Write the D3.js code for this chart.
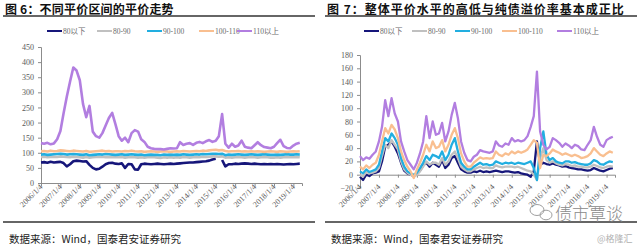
<!DOCTYPE html>
<html>
<head>
<meta charset="utf-8">
<script src="https://cdn.jsdelivr.net/npm/d3@7"></script>
<style>
  body { margin: 0; background: #fff; }
  svg { display: block; }
  .tick text { font-family: 'Liberation Serif', serif; font-size: 8px; fill: #595959; }
  .tick line, .domain { stroke: #8c8c8c; }
  .title { font-family: 'Noto Sans CJK SC', sans-serif; font-weight: 700; font-size: 12px; fill: #111; }
  .legend-text { font-family: 'Liberation Serif', 'Noto Sans CJK SC', serif; font-size: 7.5px; fill: #6a6a6a; }
  .source { font-family: 'Noto Sans CJK SC', sans-serif; font-size: 10.5px; fill: #222; }
</style>
</head>
<body>
<svg width="640" height="246"></svg>
<script>
const svg = d3.select('svg');

const seriesNames = ['80以下', '80-90', '90-100', '100-110', '110以上'];
const seriesColors = ['#16167a', '#c0c0c0', '#22aee0', '#f9bf90', '#b27ee0'];
const yearTicks = d3.range(2006, 2020);
// one reading every two months, Jan 2006 .. May 2019
const dates = d3.range(81).map((i) => new Date(2006, i * 2, 4));

// figure 6: parity level of each bucket
const parityLow = [
  68, 69, 67, 70, 68, 69, 70, 66, 55, 62, 72, 74, 73, 71, 72, 60, 50, 45,
  47, 54, 62, 66, 67, 64, 63, 65, 50, 63, 62, 45, 44, 62, 64, 63, 62, 63,
  64, 63, 62, 63, 64, 63, 64, 65, 66, 67, 68, 68, 69, 70, 71, 72, 74, 78,
  80, null, 76, 55, 62, 62, 64, 63, 64, 65, 64, 63, 64, 63, 62, 63, 62, 63,
  62, 63, 62, 61, 62, 63, 62, 63, 64];
const parity80 = [
  86, 87, 85, 86, 87, 86, 88, 87, 86, 85, 87, 86, 85, 84, 86, 84, 85, 86,
  86, 87, 85, 86, 85, 86, 85, 86, 84, 85, 86, 85, 84, 85, 84, 85, 86, 85,
  84, 83, 85, 84, 85, 84, 85, 84, 86, 85, 84, 85, 86, 85, 87, 86, 87, 88,
  88, 87, 88, 84, 85, 84, 85, 86, 85, 84, 85, 86, 85, 84, 85, 86, 85, 84,
  84, 85, 84, 85, 86, 85, 85, 86, 85];
const parity90 = [
  94, 95, 93, 94, 95, 96, 97, 96, 94, 95, 96, 95, 94, 93, 95, 92, 93, 94,
  95, 94, 96, 95, 94, 93, 94, 95, 93, 94, 95, 94, 93, 94, 92, 93, 94, 93,
  93, 92, 94, 93, 94, 93, 94, 93, 95, 94, 93, 94, 95, 94, 96, 95, 96, 97,
  97, 96, 97, 92, 94, 93, 94, 95, 94, 93, 94, 95, 94, 93, 94, 95, 94, 93,
  93, 94, 93, 94, 95, 94, 94, 95, 94];
const parity100 = [
  105, 106, 104, 107, 105, 106, 108, 107, 106, 105, 107, 106, 105, 104, 106, 103, 104, 105,
  106, 107, 105, 106, 104, 105, 105, 104, 106, 105, 107, 105, 104, 105, 103, 104, 105, 104,
  103, 104, 105, 104, 103, 104, 105, 104, 106, 105, 104, 105, 106, 105, 107, 106, 108, 109,
  110, 108, 109, 106, 104, 105, 105, 106, 104, 105, 104, 105, 104, 105, 104, 103, 104, 105,
  104, 103, 105, 104, 103, 104, 105, 104, 105];
const parityHigh = [
  132, 130, 133, 128, 131, 145, 172, 230, 285, 335, 382, 372, 340, 262, 218, 255, 170, 155,
  150, 165, 190, 215, 232, 195, 155, 140, 150, 135, 165, 175, 170, 145, 136, 120, 115, 113,
  112, 112, 111, 113, 115, 114, 115, 135, 126, 130, 132, 126, 133, 136, 132, 138, 142, 136,
  140, 155, 228, 130, 117, 130, 120, 124, 140, 120, 117, 115, 125, 135, 125, 119, 117, 115,
  120, 132, 143, 122, 116, 115, 124, 130, 133];

// figure 7: pure-bond premium of each bucket (%)
const premiumLow = [
  -3, -8, 0, -2, 2, 3, 5, 20, 42, 45, 50, 42, 32, 18, 6, 2, 0, -2,
  3, 6, 14, 18, 12, 18, 15, 12, 22, 10, 15, 25, 28, 18, 8, 5, 3, 3,
  5, 4, 6, 4, 5, 4, 5, 6, 5, 4, 5, 5, 4, 3, 4, 2, 1, 0,
  -3, 5, 50, 15, 18, 16, 15, 17, 15, 14, 12, 13, 11, 10, 9, 8, 8, 7,
  6, 7, 10, 8, 6, 5, 7, 9, 10];
const premium80 = [
  0, -3, 4, 2, 3, 5, 10, 28, 45, 40, 52, 45, 38, 20, 8, 3, 0, -3,
  0, 5, 12, 20, 15, 18, 18, 15, 25, 15, 20, 30, 35, 25, 12, 8, 5, 5,
  8, 10, 12, 10, 11, 10, 10, 14, 12, 11, 12, 12, 12, 11, 12, 10, 8, 6,
  5, 0, -8, 25, 40, 22, 18, 20, 17, 15, 14, 16, 15, 13, 14, 12, 12, 11,
  11, 12, 15, 13, 11, 10, 12, 13, 12];
const premium90 = [
  5, 2, 8, 4, 6, 8, 15, 35, 55, 50, 62, 55, 45, 25, 12, 5, 2, 0,
  3, 10, 18, 28, 22, 30, 28, 25, 35, 22, 30, 45, 55, 35, 18, 12, 8, 8,
  12, 15, 18, 15, 16, 14, 15, 20, 18, 16, 18, 17, 18, 16, 18, 17, 16, 18,
  20, 10, -8, 40, 65, 30, 22, 25, 20, 18, 17, 20, 20, 18, 19, 17, 16, 15,
  15, 17, 22, 20, 16, 15, 18, 20, 19];
const premium100 = [
  12, 8, 14, 10, 15, 18, 30, 50, 70, 62, 75, 68, 55, 35, 22, 12, 5, -5,
  8, 18, 30, 45, 35, 50, 40, 42, 52, 35, 45, 60, 70, 55, 32, 20, 12, 12,
  18, 22, 26, 24, 25, 24, 25, 35, 30, 28, 32, 30, 35, 32, 35, 33, 35, 38,
  45, 52, 48, 10, 30, 28, 32, 38, 35, 33, 30, 32, 30, 28, 30, 28, 25, 26,
  28, 32, 40, 35, 30, 28, 32, 35, 33];
const premiumHigh = [
  28, 22, 26, 24, 30, 35, 50, 72, 112, 88, 115, 92, 80, 50, 35, 22, 15, 8,
  18, 32, 50, 88, 55, 80, 60, 62, 78, 50, 65, 90, 108, 85, 50, 33, 22, 20,
  27, 30, 37, 35, 34, 33, 35, 50, 44, 42, 47, 45, 55, 50, 52, 50, 52, 58,
  72, 88, 155, 65, 45, 38, 42, 55, 52, 48, 42, 47, 44, 40, 45, 43, 38, 37,
  45, 52, 72, 57, 45, 42, 52, 55, 57];

const parityTicks = d3.range(0, 451, 50);
const premiumTicks = d3.range(-20, 181, 20);

const fmtDate = (d) => `${d.getFullYear()}/1/4`;

const drawPanel = (opt) => {
  const { left, right, top, bottom, yDomain, yTicks, series, baseValue, labelY, strokeW } = opt;

  const xScale = d3.scaleTime()
    .domain([new Date(2006, 0, 4), new Date(2019, 5, 15)])
    .range([left, right]);

  const yScale = d3.scaleLinear()
    .domain(yDomain)
    .range([bottom, top]);

  svg.append('g')
    .attr('transform', `translate(${left},0)`)
    .call(d3.axisLeft(yScale).tickValues(yTicks).tickSize(3).tickPadding(4));

  // x axis line sits on the zero / base value
  const xAxisG = svg.append('g')
    .attr('transform', `translate(0,${yScale(baseValue)})`)
    .call(d3.axisBottom(xScale)
      .tickValues(yearTicks.map((y) => new Date(y, 0, 4)))
      .tickSize(3)
      .tickFormat(fmtDate));

  xAxisG.selectAll('.tick text')
    .attr('text-anchor', 'end')
    .attr('transform', `translate(0,${labelY - yScale(baseValue)}) rotate(-45)`)
    .attr('x', -2)
    .attr('y', 2)
    .attr('dy', '0.3em');

  const line = d3.line()
    .defined((d) => d != null)
    .x((d, i) => xScale(dates[i]))
    .y((d) => yScale(d));

  series.forEach((values, k) => {
    svg.append('path')
      .datum(values)
      .attr('fill', 'none')
      .attr('stroke', seriesColors[k])
      .attr('stroke-width', strokeW)
      .attr('stroke-linejoin', 'round')
      .attr('d', line);
  });
};

const drawFrame = (opt) => {
  const { x0, x1, title, legendX, spacing } = opt;
  svg.append('text')
    .attr('class', 'title')
    .attr('x', x0 + 2)
    .attr('y', 14)
    .attr('letter-spacing', spacing)
    .text(title);

  svg.append('line')
    .attr('x1', x0).attr('x2', x1)
    .attr('y1', 16).attr('y2', 16)
    .attr('stroke', '#333').attr('stroke-width', 1.3);

  svg.append('line')
    .attr('x1', x0).attr('x2', x1)
    .attr('y1', 222).attr('y2', 222)
    .attr('stroke', '#333').attr('stroke-width', 1.3);

  svg.append('text')
    .attr('class', 'source')
    .attr('x', x0 + 6)
    .attr('y', 243)
    .text('数据来源：Wind，国泰君安证券研究');

  const lg = svg.append('g');
  seriesNames.forEach((name, k) => {
    const lx = legendX[k];
    lg.append('line')
      .attr('x1', lx).attr('x2', lx + 15)
      .attr('y1', 31).attr('y2', 31)
      .attr('stroke', seriesColors[k]).attr('stroke-width', 2);
    lg.append('text')
      .attr('class', 'legend-text')
      .attr('x', lx + 16)
      .attr('y', 34)
      .text(name);
  });
};

drawFrame({
  x0: 3, x1: 315,
  title: '图 6：不同平价区间的平价走势',
  legendX: [47, 97, 147, 199, 237],
  spacing: 0.2
});
drawFrame({
  x0: 325, x1: 637,
  title: '图 7：整体平价水平的高低与纯债溢价率基本成正比',
  legendX: [364, 412, 455, 502, 557],
  spacing: 1
});

drawPanel({
  left: 41, right: 302, top: 47, bottom: 183,
  yDomain: [0, 450], yTicks: parityTicks, baseValue: 0, labelY: 183, strokeW: 2.6,
  series: [parityLow, parity80, parity90, parity100, parityHigh]
});
drawPanel({
  left: 360, right: 615, top: 55, bottom: 188,
  yDomain: [-20, 180], yTicks: premiumTicks, baseValue: 0, labelY: 183, strokeW: 2.3,
  series: [premiumLow, premium80, premium90, premium100, premiumHigh]
});

// watermark
const wm = svg.append('g').attr('fill', 'none').attr('stroke', '#a0a0a0').attr('stroke-width', 1);
wm.append('ellipse').attr('cx', 537).attr('cy', 210).attr('rx', 7).attr('ry', 5.5);
wm.append('ellipse').attr('cx', 546).attr('cy', 215).attr('rx', 6).attr('ry', 4.8);
svg.append('text')
  .attr('x', 555).attr('y', 220)
  .attr('font-family', 'Noto Sans CJK SC, sans-serif')
  .attr('font-weight', 300)
  .attr('font-size', 17)
  .attr('fill', '#8a8a8a')
  .text('债市覃谈');
svg.append('text')
  .attr('x', 597).attr('y', 242)
  .attr('font-family', 'Noto Sans CJK SC, sans-serif')
  .attr('font-size', 9)
  .attr('fill', '#b0b0b0')
  .text('@格隆汇');
</script>
</body>
</html>
